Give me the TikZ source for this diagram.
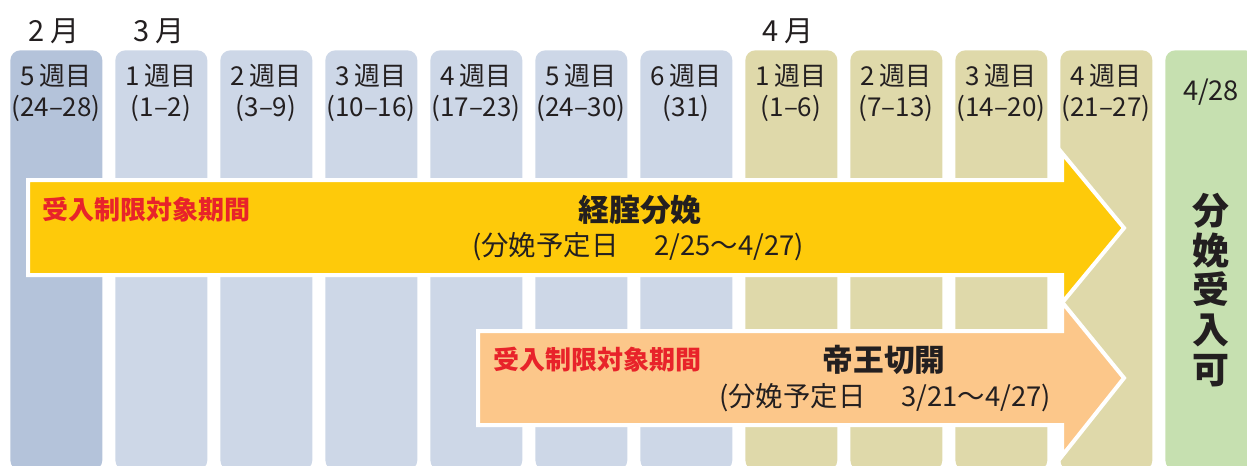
\documentclass[tikz,border=0pt]{standalone}
\usepackage{fontspec}
\setmainfont{Noto Sans CJK JP}
\usepackage{tikz}
\usetikzlibrary{positioning}
\definecolor{febcolor}{RGB}{180,195,218}
\definecolor{marcolor}{RGB}{205,215,231}
\definecolor{aprcolor}{RGB}{223,217,170}
\definecolor{okcolor}{RGB}{198,224,176}
\definecolor{vagcolor}{RGB}{254,202,10}
\definecolor{csecolor}{RGB}{252,199,138}
\definecolor{limitcolor}{RGB}{232,35,42}
\definecolor{inkcolor}{RGB}{35,31,32}

\begin{document}
\begin{tikzpicture}[
    x=0.02cm, y=-0.02cm,
    weekcol/.style={anchor=north west, minimum width=1.84cm, minimum height=8.4cm, rounded corners=0.2cm, inner sep=0pt},
    monthlabel/.style={font=\fontsize{16.5}{18}\selectfont, text=inkcolor, inner sep=0pt},
    weeklabel/.style={font=\fontsize{14.8}{18}\selectfont, align=center, text=inkcolor, inner sep=0pt},
    limitlabel/.style={anchor=west, font=\fontsize{14.8}{16}\selectfont\bfseries, text=limitcolor, inner sep=0pt},
    kindlabel/.style={font=\fontsize{17.5}{20}\selectfont\bfseries, text=inkcolor, inner sep=0pt},
    duelabel/.style={font=\fontsize{15.6}{17}\selectfont, text=inkcolor, inner sep=0pt},
    band/.style={draw=white, line width=0.08cm, line join=miter}
]
    \useasboundingbox (0,0) rectangle (1247,466);
    \clip (0,0) rectangle (1247,466);

    % Months
    \node[monthlabel] (feb) at (54,31) {2 月};
    \node[monthlabel] (mar) at (159,31) {3 月};
    \node[monthlabel] (apr) at (788,31) {4 月};

    % Week columns
    \node[weekcol, fill=febcolor] (w1) at (10,50) {};
    \node[weekcol, fill=marcolor] (w2) at (115,50) {};
    \node[weekcol, fill=marcolor] (w3) at (220,50) {};
    \node[weekcol, fill=marcolor] (w4) at (325,50) {};
    \node[weekcol, fill=marcolor] (w5) at (430,50) {};
    \node[weekcol, fill=marcolor] (w6) at (535,50) {};
    \node[weekcol, fill=marcolor] (w7) at (640,50) {};
    \node[weekcol, fill=aprcolor] (w8) at (745,50) {};
    \node[weekcol, fill=aprcolor] (w9) at (850,50) {};
    \node[weekcol, fill=aprcolor] (w10) at (955,50) {};
    \node[weekcol, fill=aprcolor] (w11) at (1060,50) {};
    \node[weekcol, fill=okcolor, minimum width=1.8cm] (ok) at (1165,50) {};

    % Week labels
    \node[weeklabel] (t1) at (56,93) {5\,週目\\(24–28)};
    \node[weeklabel] (t2) at (161,93) {1\,週目\\(1–2)};
    \node[weeklabel] (t3) at (266,93) {2\,週目\\(3–9)};
    \node[weeklabel] (t4) at (371,93) {3\,週目\\(10–16)};
    \node[weeklabel] (t5) at (476,93) {4\,週目\\(17–23)};
    \node[weeklabel] (t6) at (581,93) {5\,週目\\(24–30)};
    \node[weeklabel] (t7) at (686,93) {6\,週目\\(31)};
    \node[weeklabel] (t8) at (791,93) {1\,週目\\(1–6)};
    \node[weeklabel] (t9) at (896,93) {2\,週目\\(7–13)};
    \node[weeklabel] (t10) at (1001,93) {3\,週目\\(14–20)};
    \node[weeklabel] (t11) at (1106,93) {4\,週目\\(21–27)};
    \node[weeklabel, font=\fontsize{15.5}{17}\selectfont] (okdate) at (1211,92) {4/28};
    \node[weeklabel, font=\fontsize{21}{22.7}\selectfont\bfseries] (oktext) at (1211,290) {分\\娩\\受\\入\\可};

    % Vaginal delivery band
    \filldraw[band, fill=vagcolor] (28,180) -- (1062,180) -- (1062,153) -- (1124,228)
        -- (1062,303) -- (1062,275) -- (28,275) -- cycle;
    \node[limitlabel] (vaglimit) at (42,210) {受入制限対象期間};
    \node[kindlabel] (vag) at (640,210) {経腟分娩};
    \node[duelabel] (vagdue) at (638,247) {(分娩予定日\hspace{1.3em}2/25～4/27)};

    % Caesarean band
    \filldraw[band, fill=csecolor] (478,331) -- (1062,331) -- (1062,302) -- (1124,378)
        -- (1062,456) -- (1062,425) -- (478,425) -- cycle;
    \node[limitlabel] (cselimit) at (493,360) {受入制限対象期間};
    \node[kindlabel] (cse) at (884,360) {帝王切開};
    \node[duelabel] (csedue) at (885,398) {(分娩予定日\hspace{1.3em}3/21～4/27)};
\end{tikzpicture}
\end{document}
